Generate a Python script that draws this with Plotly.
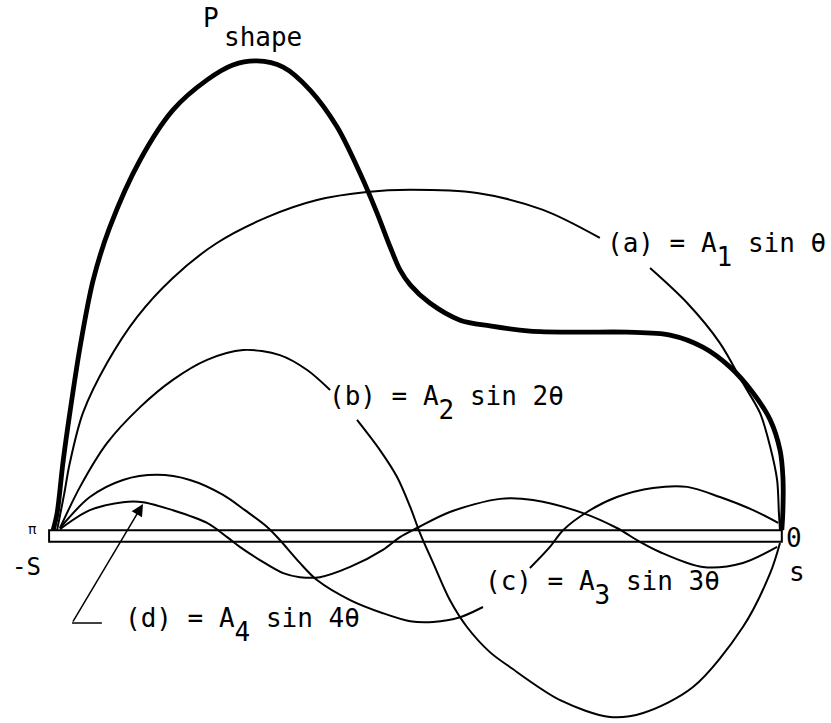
import plotly.graph_objects as go

# Span coordinate: -1 = -S (theta = pi), +1 = s (theta = 0); heights in same units
p_shape_x = [-0.997, -0.986, -0.970, -0.951, -0.923, -0.887, -0.841, -0.758, -0.668, -0.574,
             -0.503, -0.437, -0.365, -0.291, -0.217, -0.154, -0.107, -0.071, -0.044, -0.016,
             0.038, 0.121, 0.203, 0.313, 0.442, 0.580, 0.698, 0.788, 0.863, 0.926,
             0.973, 1.000, 1.008, 1.008, 1.005]
p_shape_y = [0.016, 0.063, 0.201, 0.338, 0.519, 0.703, 0.849, 1.033, 1.170, 1.253,
             1.294, 1.305, 1.288, 1.225, 1.124, 0.997, 0.887, 0.794, 0.731, 0.690,
             0.640, 0.593, 0.577, 0.563, 0.560, 0.560, 0.552, 0.519, 0.464, 0.393,
             0.319, 0.236, 0.162, 0.071, 0.016]

a_x = [-0.986, -0.967, -0.951, -0.915, -0.849, -0.766, -0.668, -0.547, -0.409, -0.272,
       -0.135, -0.016, 0.168, 0.349, 0.505, None, 0.643, 0.745, 0.835, 0.898,
       0.945, 0.973, 0.992, 0.997, 1.000]
a_y = [0.016, 0.113, 0.201, 0.338, 0.475, 0.602, 0.709, 0.805, 0.876, 0.923,
       0.945, 0.951, 0.942, 0.896, 0.819, None, 0.736, 0.640, 0.530, 0.420,
       0.338, 0.245, 0.154, 0.063, 0.016]

b_x = [-0.978, -0.923, -0.849, -0.758, -0.668, -0.574, -0.475, -0.374, -0.299, -0.236,
       None, -0.162, -0.099, -0.052, -0.016, 0.011, 0.047, 0.093, 0.140, 0.203,
       0.258, 0.396, 0.533, 0.624, 0.761, 0.898, 0.973, 1.000]
b_y = [0.022, 0.135, 0.255, 0.354, 0.429, 0.484, 0.511, 0.497, 0.456, 0.401,
       None, 0.319, 0.236, 0.162, 0.080, 0.008, -0.074, -0.176, -0.250, -0.319,
       -0.360, -0.451, -0.497, -0.486, -0.415, -0.250, -0.102, -0.019]

c_x = [-0.978, -0.896, -0.805, -0.712, -0.621, -0.530, -0.470, -0.409, -0.374, -0.319,
       -0.272, -0.181, -0.091, -0.016, 0.047, 0.121, 0.184, None, 0.313, 0.368,
       0.404, 0.470, 0.552, 0.651, 0.745, 0.835, 0.926, 0.995]
c_y = [0.022, 0.107, 0.154, 0.168, 0.154, 0.113, 0.071, 0.025, -0.011, -0.074,
       -0.121, -0.176, -0.212, -0.234, -0.236, -0.223, -0.195, None, -0.088, -0.030,
       0.016, 0.066, 0.107, 0.132, 0.135, 0.107, 0.071, 0.036]

d_x = [-0.978, -0.896, -0.805, -0.750, -0.668, -0.574, -0.519, -0.484, -0.429, -0.365,
       -0.319, -0.264, -0.181, -0.091, -0.044, 0.003, 0.093, 0.231, 0.321, 0.459,
       0.552, 0.615, 0.670, 0.788, 0.898, 0.992]
d_y = [0.019, 0.071, 0.093, 0.093, 0.071, 0.036, -0.003, -0.030, -0.066, -0.102,
       -0.113, -0.113, -0.085, -0.038, -0.003, 0.022, 0.066, 0.102, 0.099, 0.063,
       0.022, -0.016, -0.044, -0.085, -0.074, -0.030]

span_ends = [-1.008, 1.005]
bar_half_thickness = 0.016

FONT = "DejaVu Sans Mono"

fig = go.Figure()


def add_curve(x, y, width):
    fig.add_trace(go.Scatter(
        x=x, y=y, mode="lines",
        line=dict(color="black", width=width, shape="spline", smoothing=0.9),
        hoverinfo="skip", showlegend=False, connectgaps=False))


add_curve(a_x, a_y, 2)
add_curve(b_x, b_y, 2)
add_curve(c_x, c_y, 2)
add_curve(d_x, d_y, 2)
add_curve(p_shape_x, p_shape_y, 4.8)

# the span bar
fig.add_shape(type="rect", x0=span_ends[0], x1=span_ends[1],
              y0=-bar_half_thickness, y1=bar_half_thickness,
              line=dict(color="black", width=2), fillcolor="rgba(0,0,0,0)", layer="above")


def sub(t, shift="-0.55em"):
    return '<span style="baseline-shift:%s">%s</span>' % (shift, t)


annotations = []


def label(text, x, y, size=26, xanchor="left"):
    annotations.append(dict(text=text, x=x, y=y, xref="x", yref="y", showarrow=False,
                            xanchor=xanchor, yanchor="middle",
                            font=dict(family=FONT, size=size, color="black")))


label("(a) = A" + sub("1") + " sin θ", 1.132, 0.786, xanchor="right")
label("(b) = A" + sub("2") + " sin 2θ", -0.245, 0.365)
label("(c) = A" + sub("3") + " sin 3θ", 0.184, -0.143)
label("(d) = A" + sub("4") + " sin 4θ", -0.805, -0.245)
label("P", -0.563, 1.423, xanchor="center")
label("shape", -0.533, 1.370)
label("π", -1.055, 0.018, size=14, xanchor="center")
label("-S", -1.071, -0.085, size=24, xanchor="center")
label("0", 1.038, -0.005, size=26, xanchor="center")
label("s", 1.047, -0.100, size=26, xanchor="center")

# arrow pointing at peak of (d)
annotations.append(dict(x=d_x[3], y=d_y[3] - 0.005, ax=-0.945, ay=-0.239,
                        xref="x", yref="y", axref="x", ayref="y", text="",
                        showarrow=True, arrowhead=2, arrowsize=1.6, arrowwidth=1.5,
                        arrowcolor="black"))
fig.add_shape(type="line", x0=-0.945, x1=-0.863, y0=-0.239, y1=-0.239,
              line=dict(color="black", width=1.5))

fig.update_layout(
    width=831, height=723,
    margin=dict(l=0, r=0, t=0, b=0),
    paper_bgcolor="white", plot_bgcolor="white",
    xaxis=dict(range=[-1.1429, 1.1401], visible=False, fixedrange=True),
    yaxis=dict(range=[-0.5137, 1.4725], visible=False, fixedrange=True),
    annotations=annotations,
    showlegend=False,
)

fig.write_html(
    "out.html",
    config={"displayModeBar": False},
    post_script="document.body.style.margin='0px';"
                "document.documentElement.style.overflow='hidden';"
                "document.body.style.overflow='hidden';",
)
